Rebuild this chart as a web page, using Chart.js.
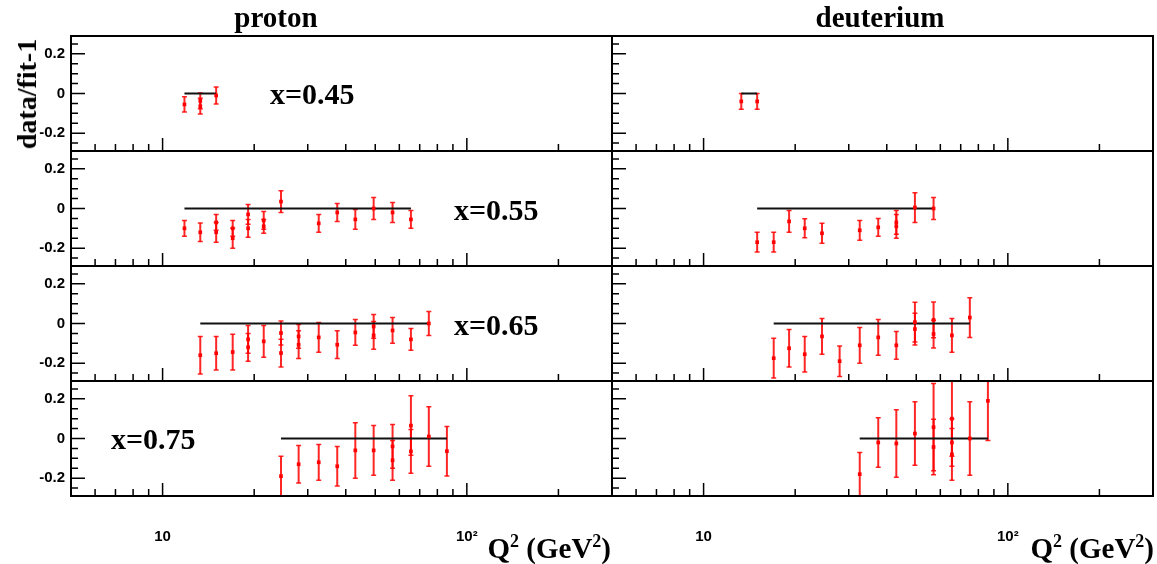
<!DOCTYPE html>
<html>
<head>
<meta charset="utf-8">
<script src="https://cdn.jsdelivr.net/npm/chart.js@4.4.0/dist/chart.umd.min.js"></script>
<style>
  body { margin: 0; background: #fff; }
  #wrap { position: relative; width: 1157px; height: 564px; overflow: hidden; background: #fff; }
  canvas { position: absolute; }
  .t { position: absolute; font-family: "Liberation Serif", "Times New Roman", serif; font-weight: bold;
       color: #000; line-height: 1; white-space: nowrap; }
  .t sup { font-size: 0.62em; line-height: 0; vertical-align: 0.6em; }
</style>
</head>
<body>
<div id="wrap"></div>
<script>
// axis ranges and ticks
const xMin = 5, xMax = 300;
const yMin = -0.29, yMax = 0.29;
const xLabelTicks = [10, 100];
const xMajorTicks = [10, 100];
const xMinorTicks = [6, 7, 8, 9, 20, 30, 40, 50, 60, 70, 80, 90, 200];
const yLabelTicks = [-0.2, 0, 0.2];
const yMajorTicks = [-0.2, 0, 0.2];
const yMinorTicks = [-0.25, -0.15, -0.1, -0.05, 0.05, 0.1, 0.15, 0.25];

// proton, x=0.45
const protonQ45 = [11.8, 13.3, 13.3, 15.0];
const protonV45 = [-0.055, -0.037, -0.064, -0.01];
const protonE45 = [0.038, 0.04, 0.04, 0.043];
const protonFit45 = [11.8, 15.0];

// deuterium, x=0.45
const deutQ45 = [13.3, 15.0];
const deutV45 = [-0.04, -0.04];
const deutE45 = [0.04, 0.04];
const deutFit45 = [13.3, 15.0];

// proton, x=0.55
const protonQ55 = [11.8, 13.3, 15.0, 15.0, 17.0, 17.0, 19.1, 19.1, 21.5, 21.5, 24.5, 32.6, 37.5, 43.0, 49.4, 57.0, 65.5];
const protonV55 = [-0.1, -0.12, -0.07, -0.12, -0.1, -0.15, -0.03, -0.1, -0.06, -0.09, 0.035, -0.075, -0.02, -0.055, 0.0, -0.02, -0.055];
const protonE55 = [0.04, 0.047, 0.04, 0.05, 0.04, 0.05, 0.05, 0.045, 0.045, 0.035, 0.055, 0.045, 0.045, 0.05, 0.055, 0.05, 0.045];
const protonFit55 = [11.8, 65.5];

// deuterium, x=0.55
const deutQ55 = [15.0, 17.0, 19.1, 21.5, 24.5, 32.6, 37.5, 43.0, 43.0, 49.5, 57.0];
const deutV55 = [-0.17, -0.17, -0.065, -0.1, -0.125, -0.11, -0.095, -0.07, -0.09, 0.005, 0.0];
const deutE55 = [0.05, 0.05, 0.055, 0.048, 0.05, 0.05, 0.045, 0.06, 0.06, 0.075, 0.055];
const deutFit55 = [15.0, 57.0];

// proton, x=0.65
const protonQ65 = [13.3, 15.0, 17.0, 19.1, 19.1, 21.5, 24.5, 24.5, 28.0, 28.0, 32.6, 37.5, 43.0, 49.4, 49.4, 57.0, 65.5, 75.0];
const protonV65 = [-0.16, -0.15, -0.144, -0.08, -0.12, -0.09, -0.048, -0.149, -0.065, -0.107, -0.07, -0.107, -0.045, -0.015, -0.06, -0.035, -0.08, 0.0];
const protonE65 = [0.095, 0.085, 0.09, 0.07, 0.07, 0.08, 0.06, 0.07, 0.06, 0.07, 0.075, 0.07, 0.065, 0.06, 0.07, 0.065, 0.055, 0.06];
const protonFit65 = [13.3, 75.0];

// deuterium, x=0.65
const deutQ65 = [17.0, 19.1, 21.5, 24.5, 28.0, 32.6, 37.5, 43.0, 49.5, 49.5, 57.0, 57.0, 65.5, 75.0];
const deutV65 = [-0.175, -0.125, -0.155, -0.065, -0.19, -0.11, -0.07, -0.11, 0.007, -0.028, 0.018, -0.053, -0.06, 0.03];
const deutE65 = [0.1, 0.095, 0.09, 0.09, 0.077, 0.09, 0.09, 0.07, 0.1, 0.08, 0.09, 0.07, 0.085, 0.1];
const deutFit65 = [17.0, 75.0];

// proton, x=0.75
const protonQ75 = [24.5, 28.0, 32.6, 37.5, 43.0, 49.4, 57.0, 57.0, 65.5, 65.5, 75.0, 86.0];
const protonV75 = [-0.19, -0.13, -0.12, -0.14, -0.06, -0.06, -0.04, -0.11, 0.065, -0.065, 0.01, -0.064];
const protonE75 = [0.1, 0.095, 0.09, 0.1, 0.14, 0.125, 0.11, 0.1, 0.15, 0.11, 0.15, 0.125];
const protonFit75 = [24.5, 86.0];

// deuterium, x=0.75
const deutQ75 = [32.6, 37.5, 43.0, 49.5, 57.0, 57.0, 65.5, 65.5, 65.5, 75.0, 86.0];
const deutV75 = [-0.18, -0.02, -0.025, 0.025, 0.057, -0.043, 0.1, -0.02, -0.08, 0.0, 0.19];
const deutE75 = [0.11, 0.125, 0.17, 0.16, 0.22, 0.14, 0.19, 0.12, 0.13, 0.185, 0.2];
const deutFit75 = [32.6, 86.0];

const panels = [
  { col: 0, row: 0, q: protonQ45, v: protonV45, e: protonE45, fit: protonFit45 },
  { col: 1, row: 0, q: deutQ45, v: deutV45, e: deutE45, fit: deutFit45 },
  { col: 0, row: 1, q: protonQ55, v: protonV55, e: protonE55, fit: protonFit55 },
  { col: 1, row: 1, q: deutQ55, v: deutV55, e: deutE55, fit: deutFit55 },
  { col: 0, row: 2, q: protonQ65, v: protonV65, e: protonE65, fit: protonFit65 },
  { col: 1, row: 2, q: deutQ65, v: deutV65, e: deutE65, fit: deutFit65 },
  { col: 0, row: 3, q: protonQ75, v: protonV75, e: protonE75, fit: protonFit75 },
  { col: 1, row: 3, q: deutQ75, v: deutV75, e: deutE75, fit: deutFit75 },
];

const wrap = document.getElementById("wrap");
const rowTop0 = 36, rowH = 115;

// error bars under the markers, frame + inward ticks on top (ROOT look)
const panelPlugin = {
  id: "panel",
  beforeDatasetsDraw(chart) {
    const ctx = chart.ctx, a = chart.chartArea;
    const xs = chart.scales.x, ys = chart.scales.y;
    const ds = chart.data.datasets[0];
    ctx.save();
    ctx.beginPath();
    ctx.rect(a.left, a.top, a.right - a.left, a.bottom - a.top);
    ctx.clip();
    ctx.strokeStyle = "rgba(255,0,0,0.85)";
    ctx.lineWidth = 2;
    ds.data.forEach((pt, i) => {
      const px = xs.getPixelForValue(pt.x);
      const y1 = ys.getPixelForValue(pt.y + ds.errors[i]);
      const y2 = ys.getPixelForValue(pt.y - ds.errors[i]);
      ctx.beginPath();
      ctx.moveTo(px, y1); ctx.lineTo(px, y2);
      ctx.stroke();
      ctx.lineWidth = 1.5;
      ctx.beginPath();
      ctx.moveTo(px - 2.5, y1); ctx.lineTo(px + 2.5, y1);
      ctx.moveTo(px - 2.5, y2); ctx.lineTo(px + 2.5, y2);
      ctx.stroke();
      ctx.lineWidth = 2;
    });
    ctx.restore();
  },
  afterDraw(chart) {
    const ctx = chart.ctx, a = chart.chartArea;
    const xs = chart.scales.x, ys = chart.scales.y;
    ctx.save();
    ctx.strokeStyle = "#000";
    ctx.lineWidth = 1.5;
    ctx.beginPath();
    yMajorTicks.forEach((v) => { const y = ys.getPixelForValue(v); ctx.moveTo(a.left, y); ctx.lineTo(a.left + 14, y); });
    yMinorTicks.forEach((v) => { const y = ys.getPixelForValue(v); ctx.moveTo(a.left, y); ctx.lineTo(a.left + 7, y); });
    xMajorTicks.forEach((v) => { const x = xs.getPixelForValue(v); ctx.moveTo(x, a.bottom); ctx.lineTo(x, a.bottom - 13); });
    xMinorTicks.forEach((v) => { const x = xs.getPixelForValue(v); ctx.moveTo(x, a.bottom); ctx.lineTo(x, a.bottom - 7); });
    ctx.stroke();
    ctx.lineWidth = 2;
    ctx.strokeRect(a.left, a.top, a.right - a.left, a.bottom - a.top);
    ctx.restore();
  },
};

panels.forEach((p) => {
  const isLeft = p.col === 0;
  const isBottom = p.row === 3;
  const top = rowTop0 + p.row * rowH;
  const cv = document.createElement("canvas");
  const cLeft = isLeft ? 0 : 608;
  const cWidth = isLeft ? 616 : 549;
  const cTop = top - 4;
  const cHeight = isBottom ? 564 - cTop : rowH + 8;
  cv.width = cWidth;
  cv.height = cHeight;
  cv.style.left = cLeft + "px";
  cv.style.top = cTop + "px";
  wrap.appendChild(cv);

  const xScale = {
    type: "logarithmic",
    min: xMin,
    max: xMax,
    bounds: "data",
    display: isBottom,
    grid: { display: false, drawTicks: false },
    border: { display: false },
    ticks: {
      autoSkip: false,
      maxRotation: 0,
      padding: 32,
      color: "#000",
      font: { family: "Liberation Sans", weight: "bold", size: 15 },
      callback: (v) => (v === 100 ? "10²" : String(v)),
    },
    afterBuildTicks: (s) => { s.ticks = xLabelTicks.map((v) => ({ value: v })); },
  };
  if (isBottom) {
    xScale.afterFit = (s) => {
      s.height = 564 - cTop - 4 - rowH;
      s.paddingLeft = 0; s.paddingRight = 0;
    };
  }

  const yScale = {
    type: "linear",
    min: yMin,
    max: yMax,
    bounds: "data",
    display: isLeft,
    grid: { display: false, drawTicks: false },
    border: { display: false },
    ticks: {
      padding: 6,
      color: "#000",
      font: { family: "Liberation Sans", weight: "bold", size: 15 },
      callback: (v) => (Math.abs(v) < 1e-9 ? "0" : v.toFixed(1)),
    },
    afterBuildTicks: (s) => { s.ticks = yLabelTicks.map((v) => ({ value: v })); },
  };
  if (isLeft) {
    yScale.afterFit = (s) => {
      s.width = 71;
      s.paddingTop = 0; s.paddingBottom = 0;
    };
  }

  new Chart(cv.getContext("2d"), {
    type: "scatter",
    data: {
      datasets: [
        {
          data: p.q.map((q, i) => ({ x: q, y: p.v[i] })),
          errors: p.e,
          pointStyle: "rect",
          pointRadius: 2.6,
          backgroundColor: "#ff0000",
          borderColor: "#ff0000",
          borderWidth: 0,
        },
        {
          data: p.fit.map((q) => ({ x: q, y: 0 })),
          showLine: true,
          borderColor: "#111",
          borderWidth: 2,
          pointRadius: 0,
          fill: false,
        },
      ],
    },
    options: {
      responsive: false,
      animation: false,
      events: [],
      layout: {
        autoPadding: false,
        padding: { left: isLeft ? 0 : 4, right: 4, top: 4, bottom: isBottom ? 0 : 4 },
      },
      plugins: { legend: { display: false }, tooltip: { enabled: false } },
      scales: { x: xScale, y: yScale },
    },
    plugins: [panelPlugin],
  });
});

// text: size, baseline position; Liberation Serif baseline sits at 0.8375em in a line-height:1 box
function addText(html, x, baseline, size, align) {
  const d = document.createElement("div");
  d.className = "t";
  d.innerHTML = html;
  d.style.fontSize = size + "px";
  d.style.left = x + "px";
  d.style.top = (baseline - 0.8375 * size) + "px";
  if (align === "center") d.style.transform = "translateX(-50%)";
  if (align === "right") d.style.transform = "translateX(-100%)";
  wrap.appendChild(d);
}

addText("proton", 276, 27, 29, "center");
addText("deuterium", 880, 27, 29, "center");
addText("x=0.45", 270, 104, 30, "left");
addText("x=0.55", 454, 220, 30, "left");
addText("x=0.65", 454, 335, 30, "left");
addText("x=0.75", 111, 449, 30, "left");
addText("Q<sup>2</sup> (GeV<sup>2</sup>)", 611, 558, 29, "right");
addText("Q<sup>2</sup> (GeV<sup>2</sup>)", 1154, 558, 29, "right");

const yt = document.createElement("div");
yt.className = "t";
yt.textContent = "data/fit-1";
yt.style.fontSize = "28px";
yt.style.left = "27px";
yt.style.top = "94px";
yt.style.transform = "translate(-50%,-50%) rotate(-90deg)";
wrap.appendChild(yt);
</script>
</body>
</html>
